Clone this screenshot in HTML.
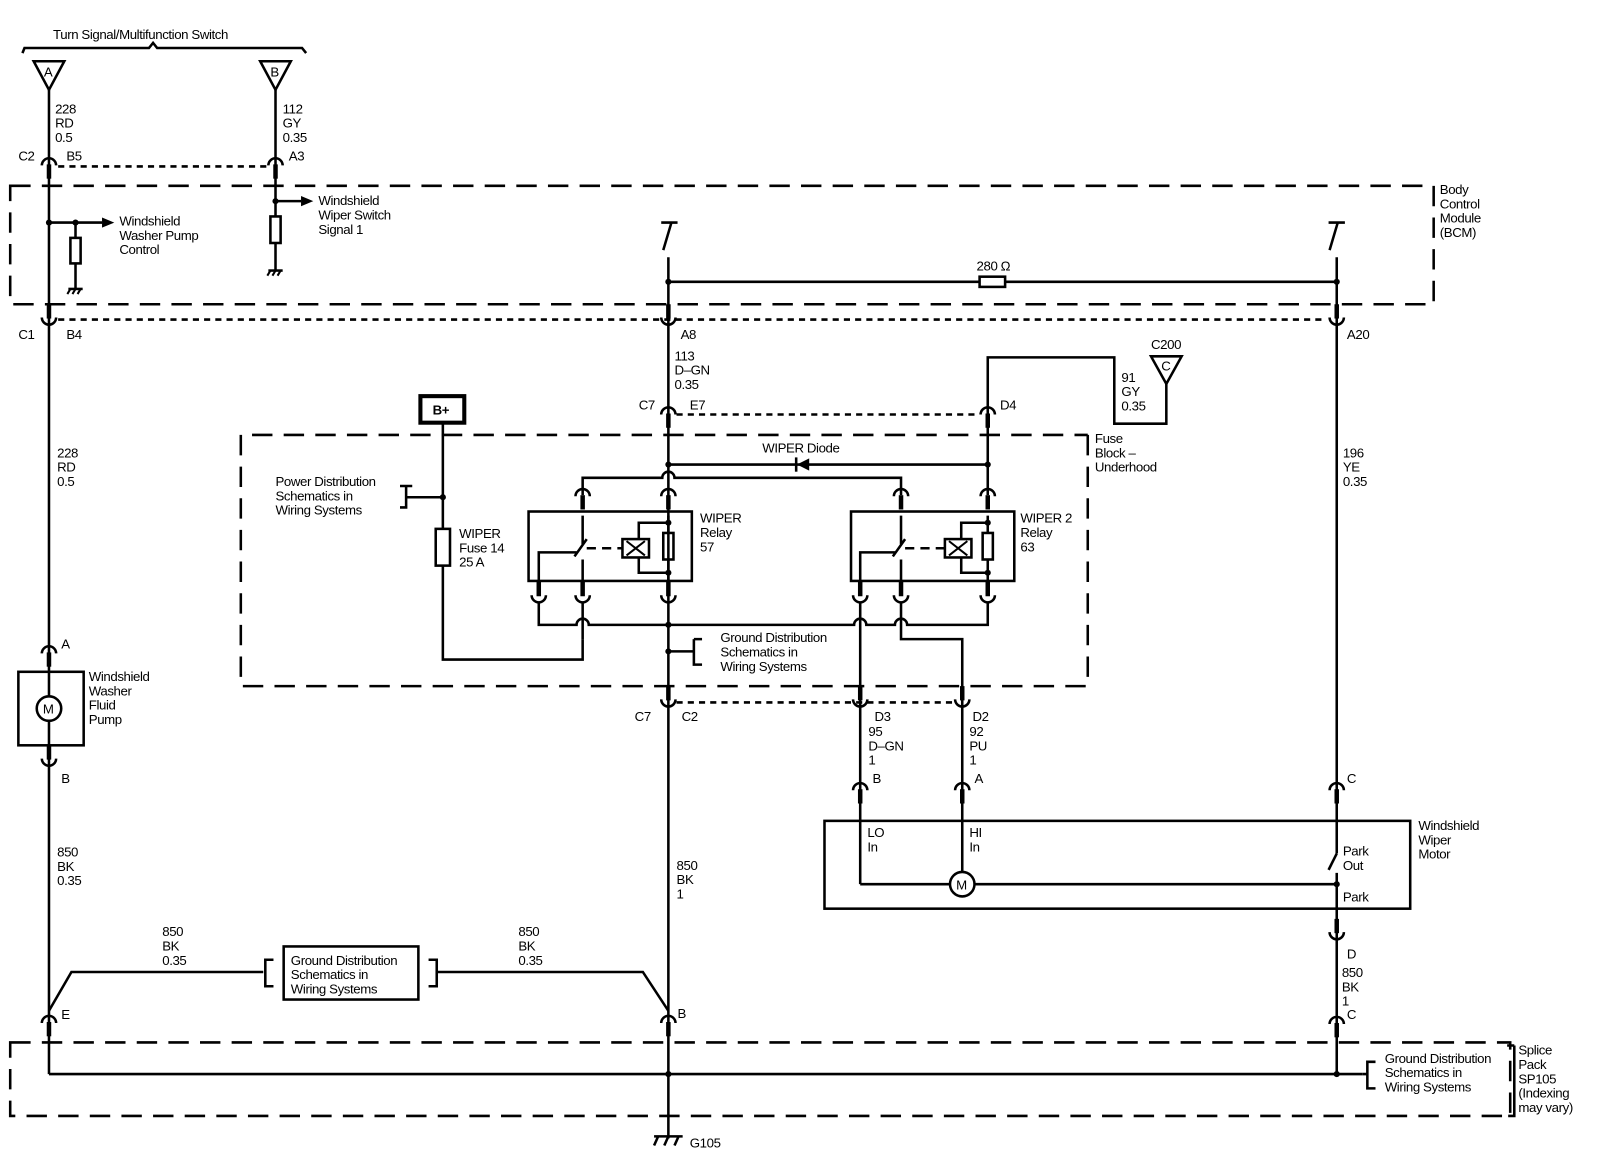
<!DOCTYPE html>
<html><head><meta charset="utf-8"><style>
html,body{margin:0;padding:0;background:#fff;width:1600px;height:1168px;overflow:hidden}
svg{display:block}
text{font-family:"Liberation Sans",sans-serif;font-size:13px;fill:#000;letter-spacing:-0.4px}
</style></head><body>
<svg width="1600" height="1168" viewBox="0 0 1568 1144" preserveAspectRatio="none" xmlns="http://www.w3.org/2000/svg">
<defs>
<g id="ct"><path d="M-7,7 A7,7 0 0 1 7,7" fill="none" stroke="#000" stroke-width="2.5"/><rect x="-2.2" y="6" width="4.4" height="14"/></g>
<g id="cb"><path d="M-7,-7 A7,7 0 0 0 7,-7" fill="none" stroke="#000" stroke-width="2.5"/><rect x="-2.2" y="-20" width="4.4" height="14"/></g>
<g id="gnd"><line x1="-7" y1="0" x2="7" y2="0" stroke="#000" stroke-width="2.5"/><line x1="-5" y1="0" x2="-8" y2="5" stroke="#000" stroke-width="2"/><line x1="0" y1="0" x2="-3" y2="5" stroke="#000" stroke-width="2"/><line x1="5" y1="0" x2="2" y2="5" stroke="#000" stroke-width="2"/></g>
<g id="gnd2"><line x1="-14" y1="0" x2="14" y2="0" stroke="#000" stroke-width="2.5"/><line x1="-10" y1="0" x2="-14" y2="9" stroke="#000" stroke-width="2.5"/><line x1="0" y1="0" x2="-4" y2="9" stroke="#000" stroke-width="2.5"/><line x1="10" y1="0" x2="6" y2="9" stroke="#000" stroke-width="2.5"/></g>
</defs>
<g fill="none" stroke="#000" stroke-width="2.5">
<path d="M22,52 L24,47 L146,47 L150,42 L154,47 L296,47 L300,52"/>
<path d="M33,60 L63,60 L48,88 Z"/><path d="M255,60 L285,60 L270,88 Z"/>
<path d="M1128,349 L1158,349 L1143,376 Z"/>
<line x1="48" y1="88" x2="48" y2="1052"/>
<line x1="270" y1="88" x2="270" y2="212"/>
<line x1="270" y1="238" x2="270" y2="265"/>
<line x1="48" y1="218" x2="100" y2="218"/>
<line x1="74" y1="218" x2="74" y2="233"/><rect x="69" y="233" width="10" height="25"/><line x1="74" y1="258" x2="74" y2="283"/>
<line x1="270" y1="197" x2="295" y2="197"/><rect x="265" y="212" width="10" height="26"/>
<path d="M10,182 H1405 V298 H10 Z" stroke-dasharray="20,11"/>
<line x1="57" y1="163" x2="262" y2="163" stroke-dasharray="6,5"/>
<line x1="57" y1="313" x2="1300" y2="313" stroke-dasharray="6,5"/>
<line x1="663" y1="406" x2="960" y2="406" stroke-dasharray="6,5"/>
<line x1="663" y1="688" x2="935" y2="688" stroke-dasharray="6,5"/>
<line x1="648" y1="218" x2="664" y2="218"/><line x1="658" y1="218" x2="650" y2="245"/>
<line x1="1302" y1="218" x2="1318" y2="218"/><line x1="1311" y1="218" x2="1303" y2="245"/>
<line x1="655" y1="252" x2="655" y2="1115"/>
<line x1="1310" y1="252" x2="1310" y2="836"/>
<line x1="1310" y1="855" x2="1310" y2="1052"/>
<line x1="655" y1="276" x2="960" y2="276"/><rect x="960" y="271" width="25" height="10"/><line x1="985" y1="276" x2="1310" y2="276"/>
<path d="M968,404 V350 H1092 V415 H1143 V376"/>
<path d="M1066,426 V672 H236 V426 H1066" stroke-dasharray="20,11"/>
<rect x="412" y="388" width="43" height="26" stroke-width="4"/>
<path d="M434,414 V518 M434,554 V646 H571 V626"/>
<rect x="427" y="518" width="14" height="36"/>
<path d="M392,476 H404 M398,476 V497 H392 M398,487 H434"/>
<line x1="655" y1="455" x2="968" y2="455"/>
<line x1="968" y1="404" x2="968" y2="485"/>
<path d="M571,485 V468 H649 A6,6 0 0 1 661,468 H883 V485"/>
<rect x="518" y="501" width="160" height="68"/>
<rect x="834" y="501" width="160" height="68"/>
<path d="M571,505 V533 M571,548 V570 M563,545 L575,528 M528,570 V541 H565"/>
<line x1="575" y1="537" x2="610" y2="537" stroke-dasharray="9,6"/>
<rect x="610" y="528" width="26" height="18"/>
<path d="M655,505 V522 M655,548 V570 M655,512 H626 V528 M626,546 V561 H655"/>
<rect x="650" y="522" width="10" height="26"/>
<path d="M883,505 V533 M883,548 V570 M875,545 L887,528 M843,570 V541 H877"/>
<line x1="887" y1="537" x2="926" y2="537" stroke-dasharray="9,6"/>
<rect x="926" y="528" width="26" height="18"/>
<path d="M968,505 V522 M968,548 V570 M968,512 H942 V528 M942,546 V561 H968"/>
<rect x="963" y="522" width="10" height="26"/>
<path d="M528,590 V612 H565 A6,6 0 0 1 577,612 H837 A6,6 0 0 1 849,612 H877 A6,6 0 0 1 889,612 H968 V590"/>
<line x1="571" y1="590" x2="571" y2="626"/>
<path d="M843,590 V690 M883,590 V626 H943 V690"/>
<path d="M655,638 H680 M680,626 H688 M680,626 V651 H688"/>
<line x1="843" y1="690" x2="843" y2="866"/>
<line x1="943" y1="690" x2="943" y2="854"/>
<rect x="18" y="658" width="64" height="72"/>
<circle cx="48" cy="694" r="12" fill="#fff"/>
<rect x="808" y="804" width="574" height="86"/>
<path d="M843,866 H931 M955,866 H1310"/>
<circle cx="943" cy="866" r="12" fill="#fff"/>
<line x1="1302" y1="852" x2="1310" y2="836"/>
<path d="M48,990 L70,952 H258 M268,940 H260 V966 H268"/>
<rect x="278" y="927" width="132" height="52"/>
<path d="M420,940 H428 V966 H420 M428,952 H630 L655,990"/>
<path d="M10,1021 H1480 V1093 H10 Z" stroke-dasharray="20,11"/>
<line x1="48" y1="1052" x2="1335" y2="1052"/>
<path d="M1335,1052 H1340 M1348,1040 H1340 V1066 H1348"/>
<path d="M1477,1024 H1484 M1484,1024 V1093 H1478"/>
</g>
<g>
<circle cx="48" cy="218" r="3"/><circle cx="74" cy="218" r="3"/><circle cx="270" cy="197" r="3"/>
<circle cx="655" cy="276" r="3"/><circle cx="1310" cy="276" r="3"/>
<circle cx="434" cy="487" r="3"/><circle cx="655" cy="455" r="3"/><circle cx="968" cy="455" r="3"/>
<circle cx="655" cy="512" r="3"/><circle cx="655" cy="561" r="3"/><circle cx="968" cy="512" r="3"/><circle cx="968" cy="561" r="3"/>
<circle cx="655" cy="612" r="3"/><circle cx="655" cy="638" r="3"/><circle cx="1310" cy="866" r="3"/>
<circle cx="655" cy="1052" r="3"/><circle cx="1310" cy="1052" r="3"/>
<path d="M100,213 L112,218 L100,223 Z"/><path d="M295,192 L307,197 L295,202 Z"/>
<path d="M781,455 L793,449 L793,461 Z"/><rect x="779" y="448" width="2.5" height="14"/>
<path d="M614,530 L632,544 M632,530 L614,544" stroke="#000" stroke-width="2"/>
<path d="M930,530 L948,544 M948,530 L930,544" stroke="#000" stroke-width="2"/>
</g>
<use href="#ct" x="48" y="155"/><use href="#ct" x="270" y="155"/>
<use href="#cb" x="48" y="318"/><use href="#cb" x="655" y="318"/><use href="#cb" x="1310" y="318"/>
<use href="#ct" x="655" y="399"/><use href="#ct" x="968" y="399"/>
<use href="#ct" x="571" y="479"/><use href="#ct" x="655" y="479"/><use href="#ct" x="883" y="479"/><use href="#ct" x="968" y="479"/>
<use href="#cb" x="528" y="590"/><use href="#cb" x="571" y="590"/><use href="#cb" x="655" y="590"/>
<use href="#cb" x="843" y="590"/><use href="#cb" x="883" y="590"/><use href="#cb" x="968" y="590"/>
<use href="#cb" x="655" y="692"/><use href="#cb" x="843" y="692"/><use href="#cb" x="943" y="692"/>
<use href="#ct" x="48" y="633"/><use href="#cb" x="48" y="750"/>
<use href="#ct" x="843" y="767"/><use href="#ct" x="943" y="767"/><use href="#ct" x="1310" y="767"/>
<use href="#cb" x="1310" y="920"/><use href="#ct" x="1310" y="996"/>
<use href="#ct" x="48" y="995"/><use href="#ct" x="655" y="995"/>
<use href="#gnd" x="74" y="283"/><use href="#gnd" x="270" y="265"/><use href="#gnd2" x="655" y="1113"/>
<text x="52" y="38">Turn Signal/Multifunction Switch</text>
<text x="43" y="75" font-size="12">A</text><text x="265" y="75" font-size="12">B</text><text x="1138" y="363" font-size="12">C</text>
<text x="54" y="111">228</text><text x="54" y="125">RD</text><text x="54" y="139">0.5</text>
<text x="277" y="111">112</text><text x="277" y="125">GY</text><text x="277" y="139">0.35</text>
<text x="18" y="157">C2</text><text x="65" y="157">B5</text><text x="283" y="157">A3</text>
<text x="117" y="221">Windshield</text><text x="117" y="235">Washer Pump</text><text x="117" y="249">Control</text>
<text x="312" y="201">Windshield</text><text x="312" y="215">Wiper Switch</text><text x="312" y="229">Signal 1</text>
<text x="1411" y="190">Body</text><text x="1411" y="204">Control</text><text x="1411" y="218">Module</text><text x="1411" y="232">(BCM)</text>
<text x="957" y="265">280 Ω</text>
<text x="18" y="332">C1</text><text x="65" y="332">B4</text><text x="667" y="332">A8</text><text x="1320" y="332">A20</text>
<text x="661" y="353">113</text><text x="661" y="367">D–GN</text><text x="661" y="381">0.35</text>
<text x="1128" y="342">C200</text>
<text x="1099" y="374">91</text><text x="1099" y="388">GY</text><text x="1099" y="402">0.35</text>
<text x="626" y="401">C7</text><text x="676" y="401">E7</text><text x="980" y="401">D4</text>
<text x="424" y="406" font-weight="bold">B+</text>
<text x="1073" y="434">Fuse</text><text x="1073" y="448">Block –</text><text x="1073" y="462">Underhood</text>
<text x="747" y="443">WIPER Diode</text>
<text x="56" y="448">228</text><text x="56" y="462">RD</text><text x="56" y="476">0.5</text>
<text x="1316" y="448">196</text><text x="1316" y="462">YE</text><text x="1316" y="476">0.35</text>
<text x="270" y="476">Power Distribution</text><text x="270" y="490">Schematics in</text><text x="270" y="504">Wiring Systems</text>
<text x="686" y="512">WIPER</text><text x="686" y="526">Relay</text><text x="686" y="540">57</text>
<text x="1000" y="512">WIPER 2</text><text x="1000" y="526">Relay</text><text x="1000" y="540">63</text>
<text x="450" y="527">WIPER</text><text x="450" y="541">Fuse 14</text><text x="450" y="555">25 A</text>
<text x="706" y="629">Ground Distribution</text><text x="706" y="643">Schematics in</text><text x="706" y="657">Wiring Systems</text>
<text x="60" y="635">A</text>
<text x="87" y="667">Windshield</text><text x="87" y="681">Washer</text><text x="87" y="695">Fluid</text><text x="87" y="709">Pump</text>
<text x="42" y="699" font-size="12">M</text><text x="937" y="871" font-size="12">M</text>
<text x="622" y="706">C7</text><text x="668" y="706">C2</text><text x="857" y="706">D3</text><text x="953" y="706">D2</text>
<text x="851" y="721">95</text><text x="851" y="735">D–GN</text><text x="851" y="749">1</text>
<text x="950" y="721">92</text><text x="950" y="735">PU</text><text x="950" y="749">1</text>
<text x="60" y="767">B</text><text x="855" y="767">B</text><text x="955" y="767">A</text><text x="1320" y="767">C</text>
<text x="1390" y="813">Windshield</text><text x="1390" y="827">Wiper</text><text x="1390" y="841">Motor</text>
<text x="850" y="820">LO</text><text x="850" y="834">In</text><text x="950" y="820">HI</text><text x="950" y="834">In</text>
<text x="1316" y="838">Park</text><text x="1316" y="852">Out</text><text x="1316" y="883">Park</text>
<text x="56" y="839">850</text><text x="56" y="853">BK</text><text x="56" y="867">0.35</text>
<text x="663" y="852">850</text><text x="663" y="866">BK</text><text x="663" y="880">1</text>
<text x="159" y="917">850</text><text x="159" y="931">BK</text><text x="159" y="945">0.35</text>
<text x="508" y="917">850</text><text x="508" y="931">BK</text><text x="508" y="945">0.35</text>
<text x="285" y="945">Ground Distribution</text><text x="285" y="959">Schematics in</text><text x="285" y="973">Wiring Systems</text>
<text x="1320" y="939">D</text><text x="1315" y="957">850</text><text x="1315" y="971">BK</text><text x="1315" y="985">1</text><text x="1320" y="998">C</text>
<text x="60" y="998">E</text><text x="664" y="997">B</text>
<text x="1357" y="1041">Ground Distribution</text><text x="1357" y="1055">Schematics in</text><text x="1357" y="1069">Wiring Systems</text>
<text x="1488" y="1033">Splice</text><text x="1488" y="1047">Pack</text><text x="1488" y="1061">SP105</text><text x="1488" y="1075">(Indexing</text><text x="1488" y="1089">may vary)</text>
<text x="676" y="1124">G105</text>
</svg>
</body></html>
